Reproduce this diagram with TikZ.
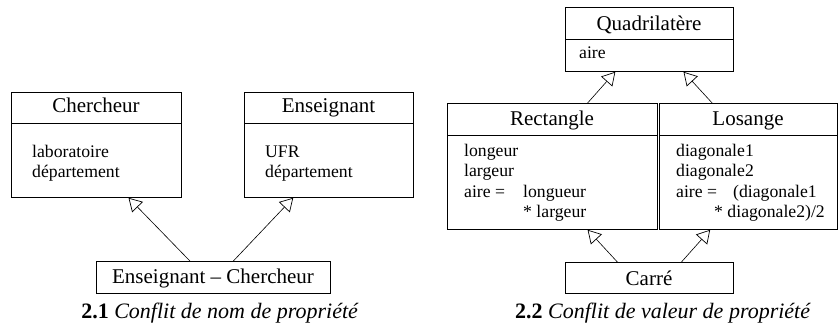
\documentclass[tikz,border=0pt]{standalone}
\usepackage{fontspec}
\setmainfont{Liberation Serif}
\usetikzlibrary{arrows.meta,calc}
\begin{document}
\begin{tikzpicture}[x=1pt,y=-1pt,
  classbox/.style={draw, line width=0.8pt, inner sep=0pt, anchor=north west},
  hdr/.style={font=\fontsize{21}{25}\selectfont, anchor=base, inner sep=0pt},
  attr/.style={font=\fontsize{17.7}{21}\selectfont, anchor=base west, inner sep=0pt},
  captext/.style={font=\fontsize{22}{26}\selectfont, anchor=base, inner sep=0pt},
  inherit/.style={line width=0.6pt, -{Triangle[open, length=13pt, width=15pt, line width=0.7pt]}}
]
\useasboundingbox (0,0) rectangle (838,332);

% ---------- 2.1 ----------
\node[classbox, minimum width=170pt, minimum height=105pt] (ch) at (11,92) {};
\draw[line width=0.8pt] (ch.west |- 0,123) -- (ch.east |- 0,123);
\node[hdr] (chT) at (96,112) {Chercheur};
\node[attr] (chA) at (32,157) {laboratoire};
\node[attr] (chB) at (32,177) {département};

\node[classbox, minimum width=169pt, minimum height=105pt] (en) at (244,92) {};
\draw[line width=0.8pt] (en.west |- 0,123) -- (en.east |- 0,123);
\node[hdr] (enT) at (328.5,112) {Enseignant};
\node[attr] (enA) at (265,157) {UFR};
\node[attr] (enB) at (265,177) {département};

\node[classbox, minimum width=234pt, minimum height=32pt] (ec) at (96,261) {};
\node[hdr] (ecT) at (213,283) {Enseignant -- Chercheur};

\draw[inherit] ($(ec.north west)!0.40!(ec.north east)$) -- ($(ch.south west)!0.688!(ch.south east)$);
\draw[inherit] ($(ec.north west)!0.585!(ec.north east)$) -- ($(en.south west)!0.29!(en.south east)$);

\node[captext] (capA) at (220,318) {\textbf{2.1} \textit{Conflit de nom de propriété}};

% ---------- 2.2 ----------
\node[classbox, minimum width=168pt, minimum height=64pt] (qu) at (565,7) {};
\draw[line width=0.8pt] (qu.west |- 0,39) -- (qu.east |- 0,39);
\node[hdr] (quT) at (649,30) {Quadrilatère};
\node[attr] (quA) at (579,58) {aire};

\node[classbox, minimum width=210pt, minimum height=126pt] (re) at (447,103) {};
\draw[line width=0.8pt] (re.west |- 0,135) -- (re.east |- 0,135);
\node[hdr] (reT) at (552,125) {Rectangle};
\node[attr] (reA) at (464,156) {longeur};
\node[attr] (reB) at (464,176.5) {largeur};
\node[attr] (reC) at (464,197) {aire =};
\node[attr] (reD) at (523,197) {longueur};
\node[attr] (reE) at (523,217.5) {* largeur};

\node[classbox, minimum width=177.5pt, minimum height=126pt] (lo) at (659,103) {};
\draw[line width=0.8pt] (lo.west |- 0,135) -- (lo.east |- 0,135);
\node[hdr] (loT) at (748,125) {Losange};
\node[attr] (loA) at (676,156) {diagonale1};
\node[attr] (loB) at (676,176.5) {diagonale2};
\node[attr] (loC) at (676,197) {aire =};
\node[attr] (loD) at (733,197) {(diagonale1};
\node[attr] (loE) at (714,217.5) {* diagonale2)/2};

\node[classbox, minimum width=168pt, minimum height=31pt] (ca) at (565,262) {};
\node[hdr] (caT) at (649,285) {Carré};

\draw[inherit] ($(re.north west)!0.667!(re.north east)$) -- ($(qu.south west)!0.298!(qu.south east)$);
\draw[inherit] ($(lo.north west)!0.298!(lo.north east)$) -- ($(qu.south west)!0.702!(qu.south east)$);
\draw[inherit] ($(ca.north west)!0.31!(ca.north east)$) -- ($(re.south west)!0.667!(re.south east)$);
\draw[inherit] ($(ca.north west)!0.69!(ca.north east)$) -- ($(lo.south west)!0.287!(lo.south east)$);

\node[captext] (capB) at (663,318) {\textbf{2.2} \textit{Conflit de valeur de propriété}};
\end{tikzpicture}
\end{document}
